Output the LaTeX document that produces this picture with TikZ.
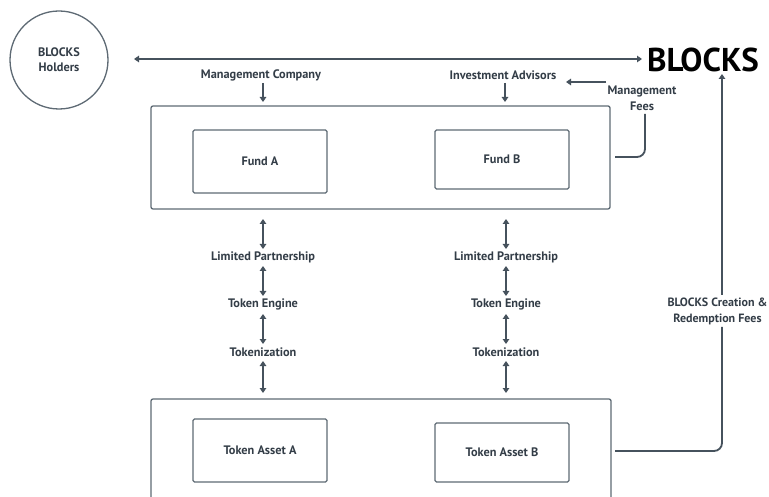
\documentclass[tikz,border=0pt]{standalone}
\usepackage{fontspec}
\setmainfont{PT Sans}
\usetikzlibrary{arrows.meta}
\definecolor{ln}{HTML}{46525D}
\definecolor{bx}{HTML}{5E6A74}
\definecolor{tx}{HTML}{333D47}
\tikzset{
  lbl/.style={text=tx,font=\bfseries\fontsize{12.3}{15}\selectfont,inner sep=0pt,align=center},
  lbltwo/.style={lbl,font=\bfseries\fontsize{12.3}{16}\selectfont},
  boxe/.style={draw=bx,line width=1.3pt,rounded corners=2pt},
  arr/.style={draw=ln,line width=1.8pt,-{Triangle[length=5pt,width=6.5pt]}},
  darr/.style={draw=ln,line width=1.8pt,{Triangle[length=5pt,width=6.5pt]}-{Triangle[length=5pt,width=6.5pt]}},
  cline/.style={draw=ln,line width=1.8pt,rounded corners=8pt},
  inbox/.style={draw=bx,line width=1.3pt,rounded corners=1.5pt,minimum width=134pt,inner sep=0pt},
}
\begin{document}
\begin{tikzpicture}[x=1pt,y=-1pt]
\useasboundingbox[fill=white] (0,0) rectangle (769,497);
% holders
\node[draw=bx,line width=1.3pt,circle,minimum size=98pt,inner sep=0pt] (holders) at (59,60) {};
\node[lbl] (holderstxt) at (59,60) {BLOCKS\\Holders};
% BLOCKS
\node[font=\bfseries\fontsize{33}{34}\selectfont,inner sep=0pt,text=black] (blocks) at (703,60) {BLOCKS};
\coordinate (ml) at (134,59);
\coordinate (mr) at (642,59);
\draw[darr] (ml) -- (mr);
% top labels
\node[lbl] (mgmt) at (261,75) {Management Company};
\node[lbl] (inv) at (503,75) {Investment Advisors};
\node[lbltwo] (fees) at (642,98) {Management\\Fees};
% top box
\draw[boxe] (151,106) rectangle (610,209);
\node[inbox,minimum height=63pt] (fundA) at (260,161.5) {};
\node[lbl] at (fundA) {Fund A};
\node[inbox,minimum height=59pt] (fundB) at (502,159.5) {};
\node[lbl] at (fundB) {Fund B};
\coordinate (ma1) at (263,83); \coordinate (ma2) at (263,102);
\draw[arr] (ma1) -- (ma2);
\coordinate (ia1) at (505,83); \coordinate (ia2) at (505,102);
\draw[arr] (ia1) -- (ia2);
\coordinate (mf1) at (606,82); \coordinate (mf2) at (566,82);
\draw[arr] (mf1) -- (mf2);
\coordinate (fc1) at (615,157); \coordinate (fc2) at (645,157); \coordinate (fc3) at (645,114);
\draw[cline] (fc1) -- (fc2) -- (fc3);
% columns
\foreach \x/\n in {263/l,506/r}{
  \node[lbl] (lp\n) at (\x,257) {Limited Partnership};
  \node[lbl] (te\n) at (\x,304) {Token Engine};
  \node[lbl] (tk\n) at (\x,352) {Tokenization};
  \coordinate (a1\n) at (\x,219); \coordinate (b1\n) at (\x,249);
  \coordinate (a2\n) at (\x,266); \coordinate (b2\n) at (\x,296);
  \coordinate (a3\n) at (\x,314); \coordinate (b3\n) at (\x,344);
  \coordinate (a4\n) at (\x,361); \coordinate (b4\n) at (\x,393);
  \draw[darr] (a1\n) -- (b1\n);
  \draw[darr] (a2\n) -- (b2\n);
  \draw[darr] (a3\n) -- (b3\n);
  \draw[darr] (a4\n) -- (b4\n);
}
% bottom box
\draw[boxe] (151,505) -- (151,399) -- (611,399) -- (611,505);
\node[inbox,minimum height=63pt] (taA) at (260,450.5) {};
\node[lbl] at (taA) {Token Asset A};
\node[inbox,minimum height=59pt] (taB) at (502,452.5) {};
\node[lbl] at (taB) {Token Asset B};
% right connector
\node[lbltwo,font=\bfseries\fontsize{12}{16}\selectfont] (crf) at (717.5,311) {BLOCKS Creation \&\\Redemption Fees};
\coordinate (r1) at (615,451); \coordinate (r2) at (722,451); \coordinate (r3) at (722,327);
\coordinate (r4) at (722,295); \coordinate (r5) at (722,74);
\draw[cline] (r1) -- (r2) -- (r3);
\draw[arr] (r4) -- (r5);
\end{tikzpicture}
\end{document}
